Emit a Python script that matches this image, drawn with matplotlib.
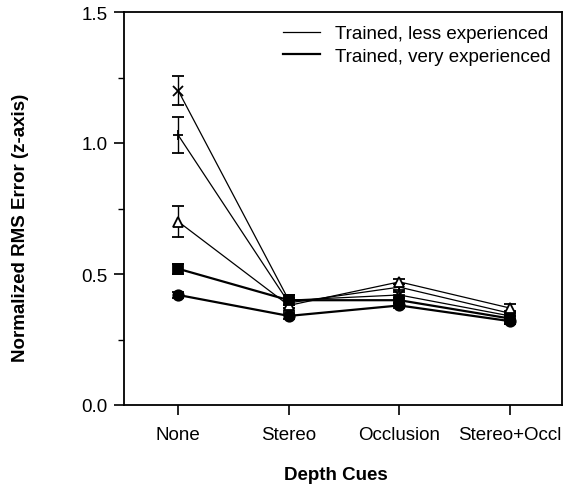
import matplotlib
matplotlib.use("Agg")
import matplotlib.pyplot as plt
from matplotlib.lines import Line2D
from matplotlib.ticker import MultipleLocator

plt.rcParams['font.family'] = ['Liberation Sans', 'DejaVu Sans']

categories = ["None", "Stereo", "Occlusion", "Stereo+Occl"]

# Trained, less experienced (thin lines)
less_x = [1.20, 0.40, 0.42, 0.34]
less_x_err = [0.055, 0.02, 0.01, 0.01]
less_plus = [1.03, 0.39, 0.45, 0.35]
less_plus_err = [0.07, 0.02, 0.01, 0.01]
less_tri = [0.70, 0.38, 0.47, 0.37]
less_tri_err = [0.06, 0.02, 0.01, 0.015]
# Trained, very experienced (thick lines)
very_sq = [0.52, 0.40, 0.40, 0.33]
very_sq_err = [0.02, 0.02, 0.01, 0.01]
very_circ = [0.42, 0.34, 0.38, 0.32]
very_circ_err = [0.01, 0.01, 0.01, 0.01]

legend_labels = ["Trained, less experienced", "Trained, very experienced"]

fig = plt.figure(figsize=(5.64, 4.85), dpi=100)
ax = fig.add_axes([124/564, 79/485, 438/564, 393/485])
xs = list(range(len(categories)))

thin = 0.9
thick = 1.6
specs = [
    (less_x, less_x_err, 'x', thin, 6.5, 'black'),
    (less_plus, less_plus_err, '+', thin, 7, 'black'),
    (less_tri, less_tri_err, '^', thin, 7.5, 'white'),
    (very_sq, very_sq_err, 's', thick, 7.5, 'black'),
    (very_circ, very_circ_err, 'o', thick, 7.5, 'black'),
]
for vals, errs, m, lw, ms, mfc in specs:
    ax.errorbar(xs, vals, yerr=errs, color='black', lw=lw, marker=m, ms=ms,
                mfc=mfc, mec='black', mew=1.3, capsize=4, elinewidth=1.0,
                capthick=1.0)

fs = 13.5
ax.set_xlim(-0.49, 3.47)
ax.set_ylim(0, 1.5)
ax.set_xticks(xs)
ax.set_xticklabels(categories, fontsize=fs)
ax.set_yticks([0, 0.5, 1.0, 1.5])
ax.set_yticklabels(["0.0", "0.5", "1.0", "1.5"], fontsize=fs)
ax.yaxis.set_minor_locator(MultipleLocator(0.25))
ax.tick_params(axis='both', which='major', direction='out', length=7, width=1.2, pad=5)
ax.tick_params(axis='x', which='major', pad=8)
ax.tick_params(axis='y', which='minor', direction='out', length=4, width=1.0)
for s in ax.spines.values():
    s.set_linewidth(1.3)

ax.set_ylabel("Normalized RMS Error (z-axis)", fontsize=fs, fontweight='bold')
ax.yaxis.set_label_coords(-(124 - 21) / 438, (406 - 228) / 393)
ax.set_xlabel("Depth Cues", fontsize=fs, fontweight='bold')
ax.xaxis.set_label_coords((336 - 124) / 438, -(476 - 406) / 393)
ax.xaxis.label.set_va('center')
ax.yaxis.label.set_va('center')

handles = [Line2D([], [], color='black', lw=thin), Line2D([], [], color='black', lw=thick)]
ax.legend(handles, legend_labels, loc='upper right', frameon=False, fontsize=fs,
          handlelength=2.0, handletextpad=0.8, labelspacing=0.3,
          bbox_to_anchor=(1.005, 1.0), borderaxespad=0.3)

fig.savefig("out.png", dpi=100)
